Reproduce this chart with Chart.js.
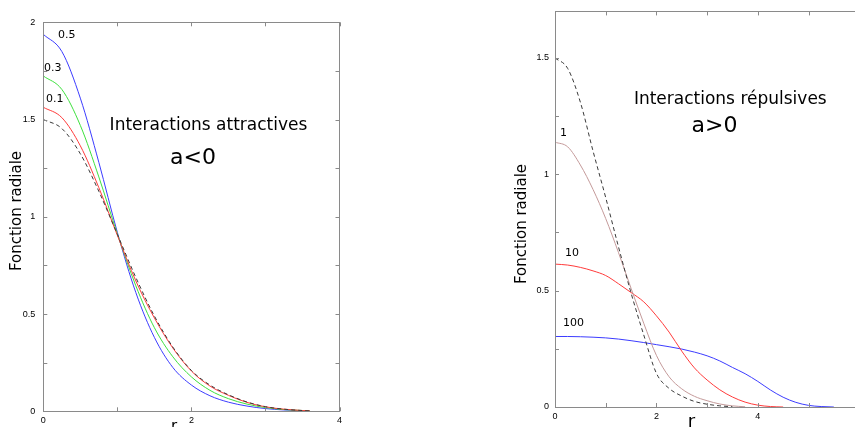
<!DOCTYPE html>
<html>
<head>
<meta charset="utf-8">
<script src="https://cdn.jsdelivr.net/npm/chart.js@4.4.1/dist/chart.umd.min.js"></script>
<style>
  html, body { margin: 0; padding: 0; background: #fff; overflow: hidden; width: 855px; height: 427px; }
  canvas { position: absolute; top: 0; }
  #chart-attr { left: 0; }
  #chart-rep { left: 430px; }
</style>
</head>
<body>
<canvas id="chart-attr" width="430" height="427"></canvas>
<canvas id="chart-rep" width="440" height="427"></canvas>
<script>
// Panneau gauche : interactions attractives (a<0)
const rAttr    = [0, 0.25, 0.5, 0.75, 1, 1.25, 1.5, 1.75, 2, 2.25, 2.5, 2.75, 3, 3.25, 3.5, 3.6];
const attrRef  = [1.5, 1.454, 1.324, 1.131, 0.91, 0.688, 0.49, 0.33, 0.21, 0.135, 0.085, 0.048, 0.024, 0.011, 0.004, 0.002];
const attr01   = [1.563, 1.51, 1.365, 1.15, 0.905, 0.67, 0.48, 0.325, 0.207, 0.13, 0.082, 0.046, 0.023, 0.011, 0.004, 0.002];
const attr03   = [1.724, 1.655, 1.47, 1.205, 0.912, 0.645, 0.43, 0.28, 0.177, 0.108, 0.065, 0.037, 0.019, 0.009, 0.004, 0.002];
const attr05   = [1.938, 1.85, 1.61, 1.28, 0.92, 0.61, 0.38, 0.225, 0.135, 0.08, 0.047, 0.027, 0.014, 0.007, 0.003, 0.001];
const ticksXAttr = [0, 1, 2, 3, 4];
const etiqXAttr  = [0, 2, 4];
const ticksYAttr = [0, 0.25, 0.5, 0.75, 1, 1.25, 1.5, 1.75, 2];
const etiqYAttr  = [0, 0.5, 1, 1.5, 2];

// Panneau droit : interactions répulsives (a>0)
const rRep    = [0, 0.25, 0.5, 0.75, 1, 1.25, 1.5, 1.75, 2, 2.25, 2.5, 2.75, 3, 3.25, 3.5, 3.75, 4, 4.25, 4.5, 4.75, 5, 5.25, 5.5];
const repRef  = [1.5, 1.455, 1.31, 1.10, 0.90, 0.69, 0.49, 0.31, 0.145, 0.08, 0.047, 0.024, 0.012, 0.005, 0.001];
const rep1    = [1.138, 1.118, 1.04, 0.935, 0.81, 0.665, 0.51, 0.36, 0.222, 0.13, 0.078, 0.046, 0.027, 0.013, 0.005, 0.001];
const rep10   = [0.614, 0.61, 0.60, 0.585, 0.565, 0.53, 0.492, 0.452, 0.392, 0.322, 0.24, 0.168, 0.116, 0.074, 0.043, 0.021, 0.008, 0.002, 0];
const rep100  = [0.303, 0.303, 0.302, 0.30, 0.297, 0.292, 0.285, 0.277, 0.268, 0.259, 0.249, 0.236, 0.22, 0.198, 0.17, 0.143, 0.11, 0.073, 0.042, 0.02, 0.007, 0.002, 0];
const ticksXRep = [0, 1, 2, 3, 4, 5, 6];
const etiqXRep  = [0, 2, 4, 6];
const ticksYRep = [0, 0.25, 0.5, 0.75, 1, 1.25, 1.5];
const etiqYRep  = [0, 0.5, 1, 1.5];

Chart.defaults.font.family = "'Liberation Sans', Arial, sans-serif";
Chart.defaults.font.size = 9;
Chart.defaults.color = '#000';

const POLICE = "'DejaVu Sans', Verdana, sans-serif";

function serie(xs, ys, couleur, tirets) {
  return {
    data: ys.map((y, i) => ({ x: xs[i], y })),
    borderColor: couleur,
    borderWidth: 1,
    borderDash: tirets || [],
    pointRadius: 0,
    cubicInterpolationMode: 'monotone',
    fill: false,
  };
}

// cadre gnuplot : bordure + graduations vers l'intérieur + textes libres
const cadre = {
  id: 'cadre',
  afterDraw(chart, args, opts) {
    const { ctx, chartArea: a, scales } = chart;
    ctx.save();
    ctx.strokeStyle = '#8a8a8a';
    ctx.lineWidth = 1;
    ctx.strokeRect(Math.round(a.left) + 0.5, Math.round(a.top) + 0.5,
                   Math.round(a.right - a.left), Math.round(a.bottom - a.top));
    ctx.beginPath();
    scales.x.ticks.forEach(t => {
      const px = Math.round(scales.x.getPixelForValue(t.value)) + 0.5;
      ctx.moveTo(px, a.bottom); ctx.lineTo(px, a.bottom - 4);
      ctx.moveTo(px, a.top);    ctx.lineTo(px, a.top + 4);
    });
    scales.y.ticks.forEach(t => {
      const py = Math.round(scales.y.getPixelForValue(t.value)) + 0.5;
      ctx.moveTo(a.left, py);  ctx.lineTo(a.left + 4, py);
      ctx.moveTo(a.right, py); ctx.lineTo(a.right - 4, py);
    });
    ctx.stroke();

    ctx.fillStyle = '#000';
    // étiquettes des courbes, en coordonnées des données
    (opts.etiquettes || []).forEach(e => {
      ctx.font = `11px ${POLICE}`;
      ctx.textAlign = 'left';
      ctx.textBaseline = 'middle';
      ctx.fillText(e.texte, scales.x.getPixelForValue(e.x), scales.y.getPixelForValue(e.y));
    });
    // textes libres, en pixels
    (opts.textes || []).forEach(t => {
      ctx.save();
      ctx.font = `${t.taille}px ${POLICE}`;
      ctx.textAlign = t.align || 'center';
      ctx.textBaseline = t.base || 'middle';
      ctx.translate(t.x, t.y);
      if (t.rot) ctx.rotate(t.rot);
      ctx.fillText(t.texte, 0, 0);
      ctx.restore();
    });
    ctx.restore();
  },
};

function axes(ticksX, etiqX, maxX, ticksY, etiqY, maxY, largeurY, hauteurX, padY) {
  return {
    x: {
      type: 'linear', min: 0, max: maxX,
      grid: { display: false, drawTicks: false },
      border: { display: false },
      afterBuildTicks: s => { s.ticks = ticksX.map(v => ({ value: v })); },
      afterFit: s => { s.height = hauteurX; },
      ticks: { autoSkip: false, maxRotation: 0, padding: 4,
               callback: v => etiqX.includes(v) ? String(v) : '' },
    },
    y: {
      type: 'linear', min: 0, max: maxY,
      grid: { display: false, drawTicks: false },
      border: { display: false },
      afterBuildTicks: s => { s.ticks = ticksY.map(v => ({ value: v })); },
      afterFit: s => { s.width = largeurY; },
      ticks: { autoSkip: false, padding: padY,
               callback: v => etiqY.includes(v) ? String(v) : '' },
    },
  };
}

new Chart(document.getElementById('chart-attr'), {
  type: 'line',
  data: {
    datasets: [
      serie(rAttr, attrRef, '#3a3a3a', [4, 3]),
      serie(rAttr, attr01, '#ff3b3b'),
      serie(rAttr, attr03, '#3ee03e'),
      serie(rAttr, attr05, '#3c3cff'),
    ],
  },
  options: {
    responsive: false,
    animation: false,
    devicePixelRatio: 1,
    layout: { padding: { left: 0, top: 22.3, right: 90.5, bottom: 0 } },
    plugins: {
      legend: { display: false },
      tooltip: { enabled: false },
      cadre: {
        etiquettes: [
          { texte: '0.5', x: 0.2, y: 1.935 },
          { texte: '0.3', x: 0.01, y: 1.765 },
          { texte: '0.1', x: 0.036, y: 1.606 },
        ],
        textes: [
          { texte: 'Interactions attractives', x: 208.5, y: 126, taille: 17 },
          { texte: 'a<0', x: 193, y: 158, taille: 22 },
          { texte: 'Fonction radiale', x: 17.5, y: 211, taille: 15, rot: -Math.PI / 2 },
          { texte: 'r', x: 174, y: 430.5, taille: 15, base: 'alphabetic' },
        ],
      },
    },
    scales: axes(ticksXAttr, etiqXAttr, 4, ticksYAttr, etiqYAttr, 2, 43.3, 15.7, 8),
  },
  plugins: [cadre],
});

new Chart(document.getElementById('chart-rep'), {
  type: 'line',
  data: {
    datasets: [
      serie(rRep, repRef, '#3a3a3a', [4, 3]),
      serie(rRep, rep1, '#c49a9a'),
      serie(rRep, rep10, '#ff3b3b'),
      serie(rRep, rep100, '#3c3cff'),
    ],
  },
  options: {
    responsive: false,
    animation: false,
    devicePixelRatio: 1,
    layout: { padding: { left: 0, top: 9.2, right: 10.8, bottom: 0 } },
    plugins: {
      legend: { display: false },
      tooltip: { enabled: false },
      cadre: {
        etiquettes: [
          { texte: '1', x: 0.1, y: 1.177 },
          { texte: '10', x: 0.197, y: 0.662 },
          { texte: '100', x: 0.158, y: 0.359 },
        ],
        textes: [
          { texte: 'Interactions répulsives', x: 300.3, y: 100, taille: 17 },
          { texte: 'a>0', x: 284.5, y: 126, taille: 22 },
          { texte: 'Fonction radiale', x: 92, y: 224, taille: 15, rot: -Math.PI / 2 },
          { texte: 'r', x: 261.5, y: 426.5, taille: 18, base: 'alphabetic' },
        ],
      },
    },
    scales: axes(ticksXRep, etiqXRep, 6, ticksYRep, etiqYRep, 1.7, 125, 20, 6),
  },
  plugins: [cadre],
});
</script>
</body>
</html>
